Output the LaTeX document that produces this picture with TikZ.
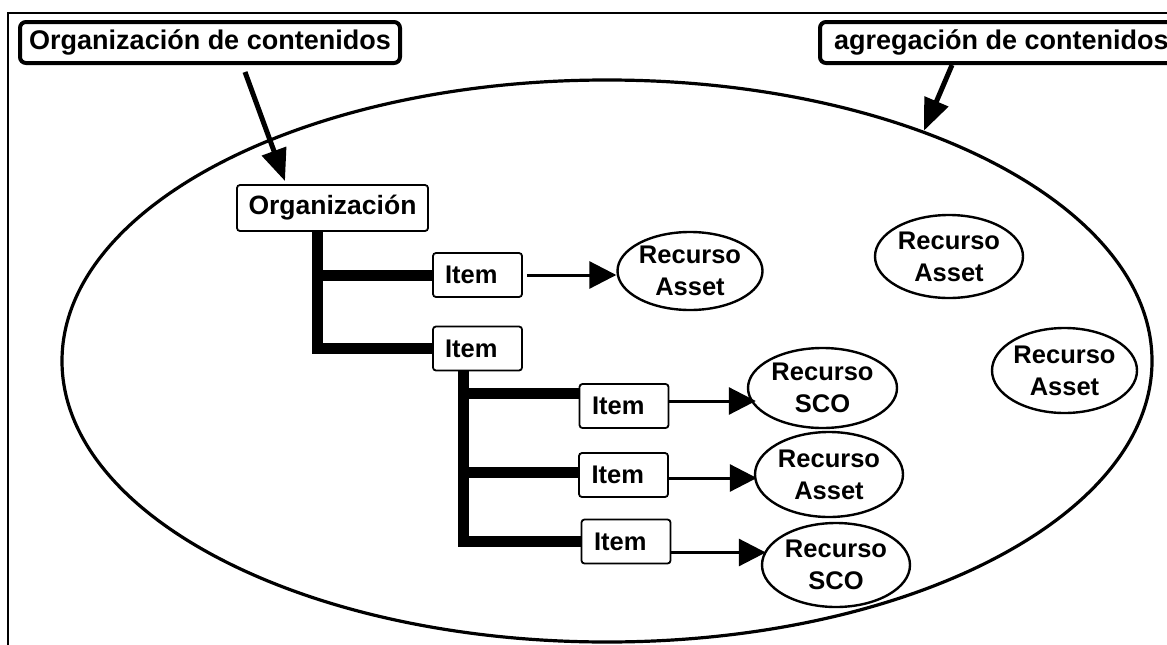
\documentclass[tikz,border=0pt]{standalone}
\usepackage{fontspec}
\setmainfont{Liberation Sans}
\usetikzlibrary{arrows.meta,shapes.geometric}

\begin{document}
\begin{tikzpicture}[x=1pt,y=-1pt,
  every node/.style={inner sep=0pt,font=\fontsize{25.5}{32}\selectfont\bfseries},
  box/.style={draw,line width=1.8pt,rounded corners=3pt,minimum height=44pt,minimum width=89pt},
  itembox/.style={box,inner xsep=12pt,text width=65pt,align=left},
  res/.style={draw,ellipse,line width=2.4pt,align=center},
  tagbox/.style={draw,line width=4pt,rounded corners=6pt,minimum height=41pt,font=\fontsize{27}{32}\selectfont\bfseries},
  trunk/.style={line width=11pt},
  link/.style={line width=3pt,-{Triangle[length=27pt,width=27pt]}},
  pointer/.style={line width=5pt,-{Triangle[length=32pt,width=25pt]}}]
\useasboundingbox (0,0) rectangle (1167,645);
\clip (0,0) rectangle (1167,645);
\fill[white] (0,0) rectangle (1167,645);
\draw[line width=2.5pt] (8,645) -- (8,13) -- (1167,13);

\node[draw,ellipse,line width=3.2pt,minimum width=1090pt,minimum height=562pt] (agg) at (607,361) {};

\node[tagbox,minimum width=380pt] (tagA) at (210,42.5) {Organización de contenidos};
\node[tagbox,anchor=west,inner xsep=14pt] (tagB) at (818,42.5) {agregación de contenidos};

\node[box,minimum width=191pt,minimum height=46pt,font=\fontsize{26.5}{32}\selectfont\bfseries] (org) at (332.5,208) {Organización};
\node[itembox] (it1) at (477.5,275) {Item};
\node[itembox] (it2) at (477.5,348.5) {Item};
\node[itembox,text width=64pt] (it3) at (624,406) {Item};
\node[itembox,text width=64pt] (it4) at (623.5,475) {Item};
\node[itembox,text width=64pt] (it5) at (626,541.5) {Item};

\node[res,minimum width=145pt,minimum height=78pt] (rA1) at (690,271) {Recurso\\Asset};
\node[res,minimum width=149pt,minimum height=80pt] (rS1) at (822.5,388) {Recurso\\SCO};
\node[res,minimum width=148pt,minimum height=85pt] (rA2) at (829,474.5) {Recurso\\Asset};
\node[res,minimum width=148pt,minimum height=84pt] (rS2) at (836,565) {Recurso\\SCO};
\node[res,minimum width=148pt,minimum height=83pt] (rA3) at (949,256.5) {Recurso\\Asset};
\node[res,minimum width=145pt,minimum height=85pt] (rA4) at (1064.5,370.5) {Recurso\\Asset};

\draw[trunk] ([xshift=-15.5pt]org.south) |- (it1.west);
\draw[trunk] ([xshift=-15.5pt]org.south) |- (it2.west);
\draw[trunk] ([xshift=-14.5pt]it2.south) |- ([yshift=13pt]it3.west);
\draw[trunk] ([xshift=-14.5pt]it2.south) |- ([yshift=3pt]it4.west);
\draw[trunk] ([xshift=-14.5pt]it2.south) |- (it5.west);

\draw[link] ([xshift=4pt]it1.east) -- (it1.east -| rA1.west);
\draw[link] ([yshift=5pt]it3.east) -- ([xshift=9pt,yshift=5pt]it3.east -| rS1.west);
\draw[link] ([yshift=-3pt]it4.east) -- ([xshift=3pt,yshift=-3pt]it4.east -| rA2.west);
\draw[link] ([yshift=-11pt]it5.east) -- ([xshift=5pt,yshift=-11pt]it5.east -| rS2.west);

\draw[pointer] ([xshift=35pt,yshift=-7pt]tagA.south) -- ([xshift=-47.5pt,yshift=3pt]org.north);
\draw[pointer] ([xshift=134pt]tagB.south west) -- (agg.36.9);
\end{tikzpicture}
\end{document}
